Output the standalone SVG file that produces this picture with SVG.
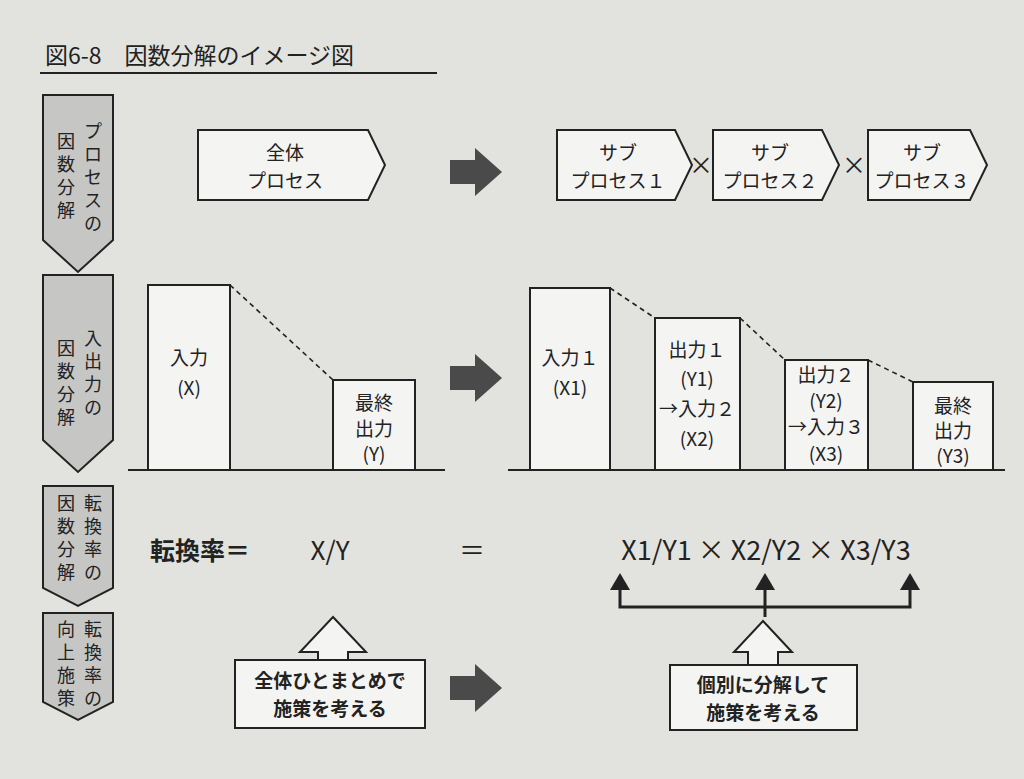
<svg xmlns="http://www.w3.org/2000/svg" width="1024" height="779" viewBox="0 0 1024 779">
<style>
text{font-family:"Noto Sans CJK JP","Liberation Sans",sans-serif;fill:#222;text-anchor:middle}
.s{font-size:19px}.v{font-size:18px}
.ln{stroke:#222;stroke-width:2;fill:none}
.wb{fill:#f4f4f2;stroke:#222;stroke-width:2}
.gp{fill:#c6c6c4;stroke:#222;stroke-width:2}
.dash{stroke:#222;stroke-width:1.6;stroke-dasharray:5 4;fill:none}
.big{fill:#4a4a4a}
</style>
<rect width="1024" height="779" fill="#e2e2de"/>
<text x="45" y="64" style="font-size:23px;text-anchor:start">図6-8　因数分解のイメージ図</text>
<line x1="40" y1="73" x2="437" y2="73" class="ln" stroke-width="1.5"/>

<g id="side1"><polygon class="gp" points="43,95 113,95 113,240 78,272 43,240"/>
<text class="v" x="93" y="138">プ</text><text class="v" x="93" y="161">ロ</text><text class="v" x="93" y="184">セ</text><text class="v" x="93" y="207">ス</text><text class="v" x="93" y="230">の</text>
<text class="v" x="66" y="148">因</text><text class="v" x="66" y="171">数</text><text class="v" x="66" y="194">分</text><text class="v" x="66" y="217">解</text></g>
<g id="side2"><polygon class="gp" points="43,275 113,275 113,440 78,472 43,440"/>
<text class="v" x="93" y="345">入</text><text class="v" x="93" y="368">出</text><text class="v" x="93" y="391">力</text><text class="v" x="93" y="414">の</text>
<text class="v" x="66" y="355">因</text><text class="v" x="66" y="378">数</text><text class="v" x="66" y="401">分</text><text class="v" x="66" y="424">解</text></g>
<g id="side3"><polygon class="gp" points="43,486 113,486 113,588 78,606 43,588"/>
<text class="v" x="93" y="510">転</text><text class="v" x="93" y="533">換</text><text class="v" x="93" y="556">率</text><text class="v" x="93" y="579">の</text>
<text class="v" x="66" y="510">因</text><text class="v" x="66" y="533">数</text><text class="v" x="66" y="556">分</text><text class="v" x="66" y="579">解</text></g>
<g id="side4"><polygon class="gp" points="43,613 113,613 113,702 78,720 43,702"/>
<text class="v" x="93" y="636">転</text><text class="v" x="93" y="659">換</text><text class="v" x="93" y="682">率</text><text class="v" x="93" y="705">の</text>
<text class="v" x="66" y="636">向</text><text class="v" x="66" y="659">上</text><text class="v" x="66" y="682">施</text><text class="v" x="66" y="705">策</text></g>

<g id="whole"><polygon class="wb" points="198,130 368,130 385,165 368,200 198,200"/>
<text class="s" x="285" y="160">全体</text><text class="s" x="285" y="188">プロセス</text></g>
<g id="sub1"><polygon class="wb" points="557,130 675,130 692,165 675,200 557,200"/>
<text class="s" x="618" y="160">サブ</text><text class="s" x="618" y="188">プロセス１</text></g>
<g id="sub2"><polygon class="wb" points="713,130 822,130 839,165 822,200 713,200"/>
<text class="s" x="770" y="160">サブ</text><text class="s" x="770" y="188">プロセス２</text></g>
<g id="sub3"><polygon class="wb" points="868,130 970,130 987,165 970,200 868,200"/>
<text class="s" x="922" y="160">サブ</text><text class="s" x="922" y="188">プロセス３</text></g>
<text x="701" y="174" style="font-size:24px">×</text><text x="854" y="174" style="font-size:24px">×</text>

<g id="bigarrows">
<polygon class="big" points="450,160 475,160 475,148 502,172 475,196 475,184 450,184"/>
<polygon class="big" points="450,366 475,366 475,354 502,378 475,402 475,390 450,390"/>
<polygon class="big" points="450,676 475,676 475,664 502,688 475,712 475,700 450,700"/>
</g>

<g id="io-left">
<rect class="wb" x="148" y="285" width="82" height="185"/>
<rect class="wb" x="333" y="380" width="82" height="90"/>
<line class="ln" x1="128" y1="470" x2="445" y2="470"/>
<line class="dash" x1="230" y1="285" x2="333" y2="380"/>
<text class="s" x="189" y="365">入力</text><text class="s" x="189" y="395">(X)</text>
<text class="s" x="374" y="410">最終</text><text class="s" x="374" y="436">出力</text><text class="s" x="374" y="461">(Y)</text>
</g>
<g id="io-right">
<rect class="wb" x="530" y="288" width="80" height="182"/>
<rect class="wb" x="655" y="318" width="85" height="152"/>
<rect class="wb" x="785" y="360" width="83" height="110"/>
<rect class="wb" x="913" y="382" width="80" height="88"/>
<line class="ln" x1="508" y1="470" x2="1005" y2="470"/>
<line class="dash" x1="610" y1="288" x2="655" y2="318"/>
<line class="dash" x1="740" y1="318" x2="785" y2="360"/>
<line class="dash" x1="868" y1="360" x2="913" y2="382"/>
<text class="s" x="570" y="365">入力１</text><text class="s" x="570" y="395">(X1)</text>
<text class="s" x="697" y="357">出力１</text><text class="s" x="697" y="386">(Y1)</text><text class="s" x="697" y="416">→入力２</text><text class="s" x="697" y="446">(X2)</text>
<text class="s" x="826" y="382">出力２</text><text class="s" x="826" y="408">(Y2)</text><text class="s" x="826" y="434">→入力３</text><text class="s" x="826" y="461">(X3)</text>
<text class="s" x="953" y="413">最終</text><text class="s" x="953" y="438">出力</text><text class="s" x="953" y="463">(Y3)</text>
</g>

<g id="rate">
<text x="200" y="560" style="font-size:25px;font-weight:bold">転換率＝</text>
<text x="330" y="560" style="font-size:26px">X/Y</text>
<text x="472" y="560" style="font-size:26px">＝</text>
<text x="766" y="560" style="font-size:27px">X1/Y1 × X2/Y2 × X3/Y3</text>
</g>

<g id="connectors">
<polyline points="620,588 620,607 910,607 910,588" fill="none" stroke="#222" stroke-width="3"/>
<line x1="765" y1="588" x2="765" y2="617" stroke="#222" stroke-width="3"/>
<polygon points="620,573 610,590 630,590" fill="#222"/>
<polygon points="765,573 755,590 775,590" fill="#222"/>
<polygon points="910,573 900,590 920,590" fill="#222"/>
<polygon class="wb" points="333,617 366,652 348,652 348,660 318,660 318,652 300,652"/>
<polygon class="wb" points="763,621 792,652 778,652 778,666 748,666 748,652 734,652"/>
</g>

<g id="box-left"><rect class="wb" x="235" y="660" width="190" height="68"/>
<text class="s" x="330" y="688" style="font-weight:bold">全体ひとまとめで</text><text class="s" x="330" y="716" style="font-weight:bold">施策を考える</text></g>
<g id="box-right"><rect class="wb" x="670" y="665" width="187" height="65"/>
<text class="s" x="763" y="692" style="font-weight:bold">個別に分解して</text><text class="s" x="763" y="720" style="font-weight:bold">施策を考える</text></g>
</svg>
